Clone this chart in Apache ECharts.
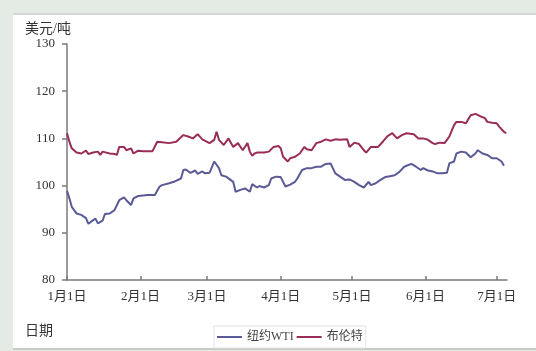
<!DOCTYPE html>
<html>
<head>
<meta charset="utf-8">
<script src="https://cdn.jsdelivr.net/npm/echarts@6/dist/echarts.min.js"></script>
<style>
html,body{margin:0;padding:0;background:#e3ebe4;}
#panel{position:absolute;left:13px;top:13px;width:530px;height:333px;background:#fff;border-top:2px solid #d3d6d4;border-bottom:2px solid #c8cbc9;}
#chart{position:absolute;left:0;top:0;width:536px;height:351px;}
</style>
</head>
<body>
<div id="panel"></div>
<div id="chart"></div>
<script>
// x positions: days since 1 Jan
const monthLabels = ['1月1日','2月1日','3月1日','4月1日','5月1日','6月1日','7月1日'];
const monthDays = [0,31,59,90,120,151,181];
const yTicks = [80,90,100,110,120,130];

const wtiDays = [0,1,2,4,6,8,9,10,12,13,15,16,18,20,22,24,25,27,28,30,34,37,39,40,43,45,48,49,50,52,54,55,57,58,60,62,64,65,67,70,71,73,75,77,78,80,81,83,85,86,88,90,92,94,96,97,99,101,103,105,107,109,111,113,115,117,119,121,123,125,127,128,130,132,134,136,138,140,142,143,145,147,149,150,152,154,156,158,160,161,163,164,166,168,170,172,173,175,177,179,181,183,184];
const wtiValues = [98.9,97.3,95.5,94.1,93.8,93.1,91.9,92.3,93.0,92.0,92.6,94.0,94.1,94.8,96.9,97.5,96.9,95.9,97.3,97.8,98.0,98.0,99.8,100.1,100.5,100.8,101.5,103.3,103.4,102.7,103.2,102.5,103.0,102.6,102.7,105.1,103.7,102.2,101.9,100.8,98.7,99.1,99.4,98.7,100.3,99.6,99.9,99.6,100.1,101.5,101.9,101.8,99.8,100.2,100.8,101.5,103.3,103.7,103.7,104.0,104.0,104.6,104.7,102.6,101.9,101.2,101.3,100.8,100.1,99.6,100.8,100.1,100.5,101.2,101.8,102.0,102.2,102.9,104.0,104.2,104.6,104.0,103.3,103.7,103.2,103.0,102.6,102.6,102.7,104.7,105.1,106.8,107.2,107.0,106.0,106.8,107.5,106.8,106.5,105.8,105.8,105.1,104.2];

const brentDays = [0,1,2,4,6,8,9,11,13,14,15,18,20,21,22,24,25,27,28,30,32,36,38,40,43,46,49,51,53,55,57,60,62,63,64,66,68,70,72,74,76,77,78,79,80,83,85,87,89,90,91,93,94,96,98,100,101,103,105,107,109,111,113,115,118,119,121,123,125,126,128,131,133,135,137,139,141,143,146,148,150,152,154,155,157,159,160,161,163,164,166,168,170,172,174,176,177,179,181,182,184,185];
const brentValues = [111.1,109.3,107.9,107.0,106.8,107.4,106.7,107.0,107.2,106.5,107.2,106.8,106.7,106.5,108.2,108.2,107.5,107.9,106.8,107.4,107.3,107.3,109.3,109.2,109.0,109.3,110.7,110.4,110.0,110.9,109.8,109.0,109.7,111.4,109.7,108.6,110.0,108.2,109.0,107.5,109.0,107.2,106.3,106.8,107.0,107.0,107.2,108.2,108.4,107.9,106.1,105.1,105.8,106.1,106.8,108.2,107.7,107.5,109.0,109.3,109.8,109.5,109.8,109.7,109.8,108.2,109.1,108.8,107.5,107.0,108.2,108.2,109.3,110.5,111.1,110.0,110.7,111.1,110.9,110.0,110.0,109.7,109.0,108.8,109.1,109.0,109.7,110.4,112.8,113.5,113.5,113.2,114.9,115.2,114.7,114.3,113.5,113.3,113.2,112.5,111.4,111.1];

const seriesNames = ['纽约WTI','布伦特'];

const chart = echarts.init(document.getElementById('chart'));
const serif = "'Liberation Serif','Noto Sans CJK SC',serif";
chart.setOption({
  animation:false,
  title:[
    {text:'美元/吨', left:20, top:17, textStyle:{fontSize:14, fontWeight:'normal', color:'#333', fontFamily:serif}},
    {text:'日期', left:20, top:319, textStyle:{fontSize:14, fontWeight:'normal', color:'#333', fontFamily:serif}}
  ],
  grid:{left:67, right:29, top:44, bottom:71},
  legend:{
    data:seriesNames, left:214, top:326, icon:'rect', itemWidth:25, itemHeight:2, itemGap:3,
    padding:[5,3,5,3], borderColor:'#e2e2e2', borderWidth:1,
    textStyle:{fontSize:12, color:'#444', fontFamily:serif}
  },
  xAxis:{
    type:'value', min:0, max:185.3,
    axisLine:{lineStyle:{color:'#7a7a7a', width:1.5}},
    axisTick:{inside:true, length:4, customValues:monthDays, lineStyle:{color:'#7a7a7a', width:1.5}},
    axisLabel:{customValues:monthDays, margin:10, fontSize:13, color:'#333', fontFamily:serif,
      formatter:function(v){const i=monthDays.indexOf(v); return i>=0?monthLabels[i]:'';}},
    splitLine:{show:false}
  },
  yAxis:{
    type:'value', min:yTicks[0], max:yTicks[yTicks.length-1], interval:10,
    axisLine:{show:true, lineStyle:{color:'#7a7a7a', width:1.5}},
    axisTick:{show:true, length:5, lineStyle:{color:'#7a7a7a', width:1.5}},
    axisLabel:{margin:12, fontSize:13, color:'#333', fontFamily:serif},
    splitLine:{show:false}
  },
  series:[
    {name:seriesNames[0], type:'line', showSymbol:false, symbol:'none', color:'#5a5a96',
     lineStyle:{width:2}, data:wtiDays.map((d,i)=>[d,wtiValues[i]])},
    {name:seriesNames[1], type:'line', showSymbol:false, symbol:'none', color:'#9a2d58',
     lineStyle:{width:2}, data:brentDays.map((d,i)=>[d,brentValues[i]])}
  ]
});
</script>
</body>
</html>
